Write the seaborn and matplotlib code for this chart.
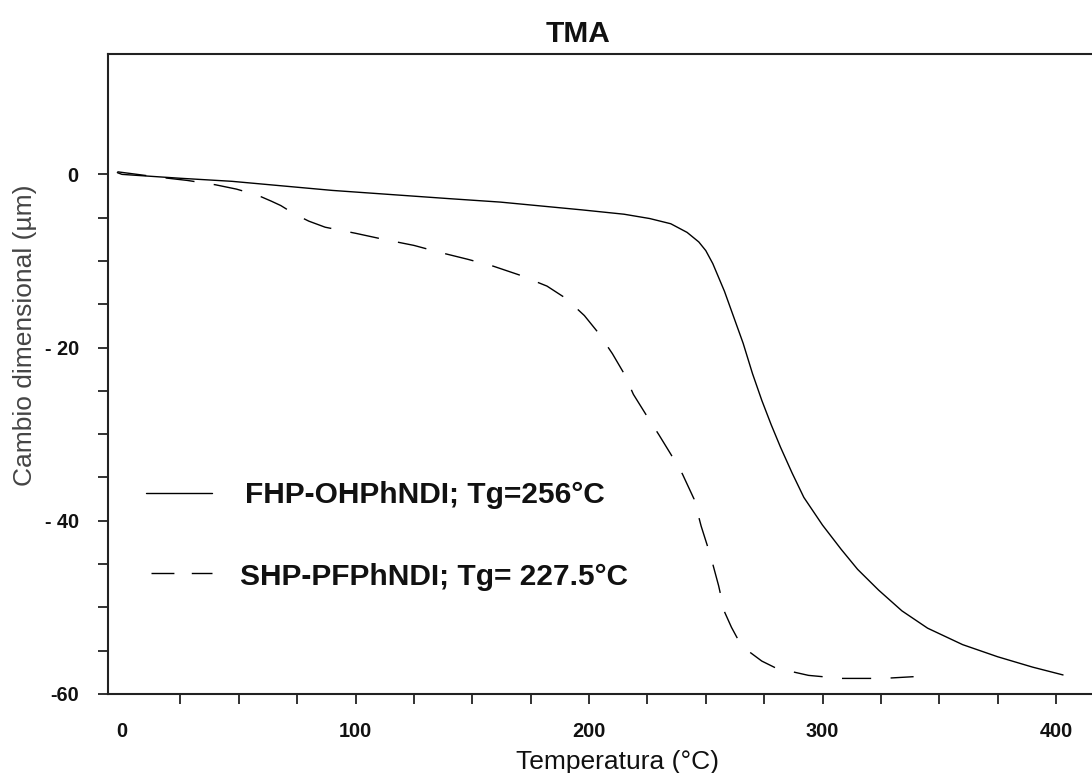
import matplotlib
matplotlib.use("Agg")
import matplotlib.pyplot as plt
from matplotlib.ticker import FixedLocator
import pandas as pd
import seaborn as sns

# Temperature (°C) and dimensional change (µm) for each sample
fhp_temp = [-2, 0, 25, 47, 90, 140, 162, 197, 215, 226, 235, 242, 247, 250, 253,
            258, 262, 266, 270, 274, 278, 282, 287, 292, 300, 308, 315, 324, 334,
            345, 360, 375, 390, 403]
fhp_change = [0.2, 0.0, -0.45, -0.8, -1.85, -2.8, -3.2, -4.1, -4.6, -5.1, -5.7,
              -6.7, -7.8, -8.8, -10.3, -13.5, -16.5, -19.5, -23.0, -26.1, -28.9,
              -31.5, -34.5, -37.3, -40.5, -43.3, -45.6, -48.0, -50.4, -52.4,
              -54.3, -55.7, -56.9, -57.8]

shp_temp = [-2, 15, 28, 40, 49, 58, 64, 68, 74, 80, 87, 100, 112, 125, 136, 148,
            159, 170, 182, 190, 198, 204, 210, 215, 219, 225, 230, 235, 240, 245,
            248, 252, 255.5, 258, 261, 264, 268, 274, 280, 294, 308, 326, 339]
shp_change = [0.3, -0.3, -0.7, -1.2, -1.7, -2.4, -3.1, -3.6, -4.6, -5.4, -6.1,
              -6.8, -7.5, -8.2, -9.0, -9.8, -10.6, -11.6, -12.9, -14.3, -16.3,
              -18.3, -20.7, -23.0, -25.4, -28.0, -30.1, -32.3, -34.6, -37.5,
              -40.6, -44.0, -47.5, -50.5, -52.3, -53.8, -55.0, -56.2, -57.0,
              -57.85, -58.2, -58.2, -58.0]

series_names = ["FHP-OHPhNDI", "SHP-PFPhNDI"]
legend_labels = ["FHP-OHPhNDI; Tg=256°C", "SHP-PFPhNDI; Tg= 227.5°C"]

x_ticks = [0, 100, 200, 300, 400]
x_tick_labels = ["0", "100", "200", "300", "400"]
y_ticks = [0, -20, -40, -60]
y_tick_labels = ["0", "- 20", "- 40", "-60"]

title = "TMA"
x_label = "Temperatura (°C)"
y_label = "Cambio dimensional (µm)"

df = pd.concat([
    pd.DataFrame({"T": fhp_temp, "dL": fhp_change, "muestra": series_names[0]}),
    pd.DataFrame({"T": shp_temp, "dL": shp_change, "muestra": series_names[1]}),
], ignore_index=True)

sns.set_style("ticks")
plt.rcParams["lines.scale_dashes"] = False
plt.rcParams["font.family"] = ["Liberation Sans", "DejaVu Sans"]

W, H = 1092, 773
fig = plt.figure(figsize=(W / 100, H / 100), dpi=100)
ax = fig.add_axes([108 / W, 79 / H, 984 / W, 640 / H])

sns.lineplot(data=df, x="T", y="dL", style="muestra", style_order=series_names,
             dashes={series_names[0]: "", series_names[1]: (21, 14)},
             color="black", linewidth=1.0, legend=False, sort=False,
             estimator=None, ax=ax)

ax.set_xlim(-6.0, 415.4)
ax.set_ylim(-60, 13.9)

ax.set_xticks(x_ticks)
ax.set_xticklabels(x_tick_labels)
ax.xaxis.set_minor_locator(FixedLocator([v for v in range(25, 400, 25) if v % 100]))
ax.set_yticks(y_ticks)
ax.set_yticklabels(y_tick_labels)
ax.yaxis.set_minor_locator(FixedLocator([v for v in range(-55, 0, 5) if v % 20]))

ax.tick_params(which="both", direction="out", length=7, width=1.3, color="#222222")
ax.tick_params(axis="x", which="major", pad=13)
ax.tick_params(axis="y", which="major", pad=14)
for lab in ax.get_xticklabels() + ax.get_yticklabels():
    lab.set_fontweight("bold")
    lab.set_fontsize(14.3)
    lab.set_color("#111111")
ax.xaxis.get_major_ticks()[0].tick1line.set_visible(False)

for side in ["left", "bottom", "top"]:
    ax.spines[side].set_linewidth(1.5)
    ax.spines[side].set_color("#222222")
ax.spines["right"].set_visible(False)

ax.set_xlabel(x_label, fontsize=19, color="#111111")
ax.xaxis.set_label_coords(0.518, -0.087)
ax.set_ylabel(y_label, fontsize=19, color="#444444")
ax.yaxis.set_label_coords(-0.072, 0.561)

ax.text(0.478, 1.019, title, transform=ax.transAxes, ha="center", va="baseline",
        fontsize=21.5, fontweight="bold", color="#111111")

# key: sample lines with their labels inside the plot area
ax.plot([0.0386, 0.1057], [0.314, 0.314], transform=ax.transAxes,
        color="black", linewidth=1.0)
ax.plot([0.0434, 0.1060], [0.1895, 0.1895], transform=ax.transAxes,
        color="black", linewidth=1.0, dashes=(16.5, 12.5))
ax.text(0.139, 0.298, legend_labels[0], transform=ax.transAxes, ha="left",
        va="baseline", fontsize=21.5, fontweight="bold", color="#111111")
ax.text(0.134, 0.170, legend_labels[1], transform=ax.transAxes, ha="left",
        va="baseline", fontsize=21.5, fontweight="bold", color="#111111")

fig.savefig("out.png", dpi=100, facecolor="white")
